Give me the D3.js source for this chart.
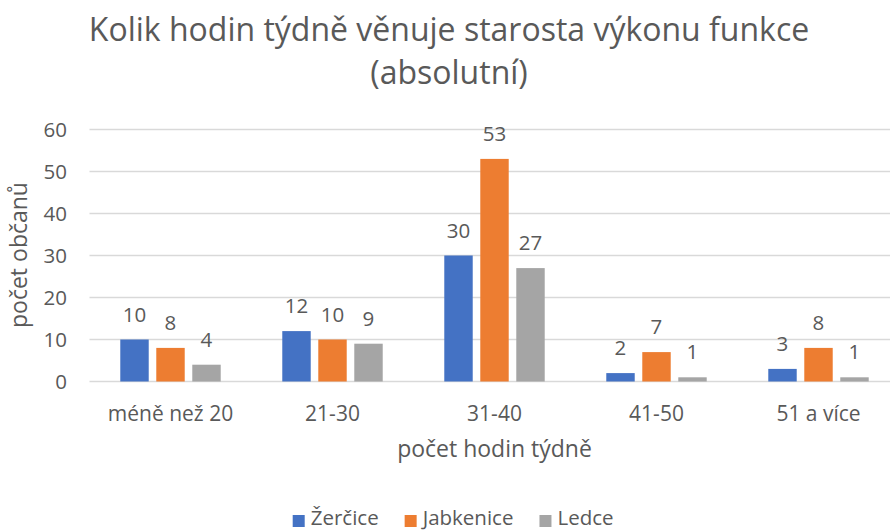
<!DOCTYPE html>
<html>
<head>
<meta charset="utf-8">
<script src="https://cdn.jsdelivr.net/npm/d3@7"></script>
<style>
  body { margin: 0; background: #fff; }
  svg text { font-family: "Open Sans", "Noto Sans", sans-serif; fill: #595959; }
</style>
</head>
<body>
<div id="chart"></div>
<script>
// data
var categories = ["méně než 20", "21-30", "31-40", "41-50", "51 a více"];
var seriesNames = ["Žerčice", "Jabkenice", "Ledce"];
var zercice = [10, 12, 30, 2, 3];
var jabkenice = [8, 10, 53, 7, 8];
var ledce = [4, 9, 27, 1, 1];
var yTicks = [0, 10, 20, 30, 40, 50, 60];
var colors = ["#4472c4", "#ed7d31", "#a5a5a5"];

var seriesValues = [zercice, jabkenice, ledce];

var width = 890, height = 530;
// plot area runs past the right edge, like the original
var plot = { left: 89.5, right: 899.5, top: 129.5, bottom: 381.5 };

var svg = d3.select("#chart").append("svg")
  .attr("width", width)
  .attr("height", height);

var x0 = d3.scaleBand()
  .domain(categories)
  .range([plot.left, plot.right])
  .paddingInner(0.38)
  .paddingOuter(0.19);

var x1 = d3.scaleBand()
  .domain(seriesNames)
  .range([0, x0.bandwidth()])
  .paddingInner(0.21);

var y = d3.scaleLinear()
  .domain([0, 60])
  .range([plot.bottom, plot.top]);

// gridlines
svg.append("g").selectAll("line")
  .data(yTicks).enter()
  .append("line")
  .attr("x1", plot.left)
  .attr("x2", plot.right)
  .attr("y1", function(d) { return y(d); })
  .attr("y2", function(d) { return y(d); })
  .attr("stroke", "#d9d9d9")
  .attr("stroke-width", 1.3);

// y axis labels
var yAxis = d3.axisLeft(y).tickValues(yTicks).tickSize(0).tickPadding(0);
var gy = svg.append("g")
  .attr("transform", "translate(" + 67 + ",0)")
  .call(yAxis);
gy.select(".domain").remove();
gy.selectAll("text")
  .attr("font-size", "20.5px")
  .attr("font-family", null)
  .attr("dy", "0.35em");

// x axis labels
var xAxis = d3.axisBottom(x0).tickSize(0).tickPadding(0);
var gx = svg.append("g")
  .attr("transform", "translate(0," + 421 + ")")
  .call(xAxis);
gx.select(".domain").remove();
gx.selectAll("text")
  .attr("font-size", "21px")
  .attr("font-family", null)
  .attr("dy", 0)
  .attr("y", 0);

// bars
var rows = categories.map(function(c, i) {
  return { cat: c, vals: seriesNames.map(function(s, j) { return { name: s, idx: j, v: seriesValues[j][i] }; }) };
});

var groups = svg.append("g").selectAll("g")
  .data(rows).enter()
  .append("g")
  .attr("transform", function(d) { return "translate(" + x0(d.cat) + ",0)"; });

groups.selectAll("rect")
  .data(function(d) { return d.vals; }).enter()
  .append("rect")
  .attr("x", function(d) { return x1(d.name); })
  .attr("y", function(d) { return y(d.v); })
  .attr("width", x1.bandwidth())
  .attr("height", function(d) { return y(0) - y(d.v); })
  .attr("fill", function(d) { return colors[d.idx]; });

// data labels
groups.selectAll("text")
  .data(function(d) { return d.vals; }).enter()
  .append("text")
  .attr("x", function(d) { return x1(d.name) + x1.bandwidth() / 2; })
  .attr("y", function(d) { return y(d.v) - 18; })
  .attr("text-anchor", "middle")
  .attr("font-size", "20.5px")
  .text(function(d) { return d.v; });

// title
svg.append("text")
  .attr("x", 449)
  .attr("y", 41)
  .attr("text-anchor", "middle")
  .attr("font-size", "32px")
  .text("Kolik hodin týdně věnuje starosta výkonu funkce");
svg.append("text")
  .attr("x", 449)
  .attr("y", 84)
  .attr("text-anchor", "middle")
  .attr("font-size", "32px")
  .text("(absolutní)");

// axis titles
svg.append("text")
  .attr("x", (plot.left + plot.right) / 2)
  .attr("y", 457)
  .attr("text-anchor", "middle")
  .attr("font-size", "23px")
  .text("počet hodin týdně");

svg.append("text")
  .attr("transform", "translate(" + 27 + "," + 255 + ") rotate(-90)")
  .attr("text-anchor", "middle")
  .attr("font-size", "23px")
  .text("počet občanů");

// legend
var legend = svg.append("g");
var lx = 292.7;
seriesNames.forEach(function(name, i) {
  var item = legend.append("g").attr("transform", "translate(" + lx + ",0)");
  item.append("rect")
    .attr("x", 0)
    .attr("y", 515)
    .attr("width", 12)
    .attr("height", 12)
    .attr("fill", colors[i]);
  var t = item.append("text")
    .attr("x", 18)
    .attr("y", 524.5)
    .attr("font-size", "20.5px")
    .text(name);
  lx += 18 + t.node().getComputedTextLength() + 26;
});
</script>
</body>
</html>
